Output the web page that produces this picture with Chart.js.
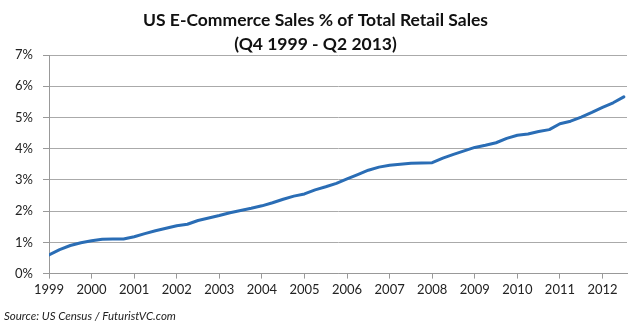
<!DOCTYPE html>
<html>
<head>
<meta charset="utf-8">
<script src="https://cdn.jsdelivr.net/npm/chart.js@4"></script>
<style>
  html, body { margin: 0; padding: 0; background: #fff; }
  #wrap { width: 640px; height: 327px; }
</style>
</head>
<body>
<div id="wrap"><canvas id="ecomChart" width="640" height="327"></canvas></div>
<script>
// quarterly share, Q4 1999 .. Q2 2013 (55 quarters)
const shareOfRetail = [
  0.60, 0.77, 0.90, 0.99, 1.05, 1.10, 1.11, 1.11, 1.18, 1.28,
  1.37, 1.45, 1.53, 1.58, 1.70, 1.78, 1.86, 1.95, 2.02, 2.09,
  2.17, 2.27, 2.38, 2.48, 2.55, 2.68, 2.78, 2.89, 3.03, 3.17,
  3.31, 3.41, 3.47, 3.50, 3.53, 3.54, 3.55, 3.70, 3.82, 3.93,
  4.04, 4.11, 4.19, 4.33, 4.43, 4.47, 4.55, 4.61, 4.80, 4.88,
  5.01, 5.16, 5.32, 5.47, 5.66
];
// one label every 4 quarters
const yearLabels = ['1999', '2000', '2001', '2002', '2003', '2004', '2005',
  '2006', '2007', '2008', '2009', '2010', '2011', '2012'];
const yTicks = [0, 1, 2, 3, 4, 5, 6, 7];

const points = shareOfRetail.map((v, i) => ({ x: i, y: v }));

const ctx = document.getElementById('ecomChart').getContext('2d');
const ecomChart = new Chart(ctx, {
  type: 'line',
  data: {
    datasets: [{
      label: 'E-Commerce % of Retail',
      data: points,
      borderColor: '#2a6db5',
      borderWidth: 3,
      pointRadius: 0,
      fill: false,
      tension: 0,
      borderJoinStyle: 'round',
      borderCapStyle: 'round'
    }]
  },
  options: {
    responsive: false,
    animation: false,
    layout: { padding: { left: 4, right: 13, top: 0, bottom: 0 } },
    plugins: {
      legend: { display: false },
      tooltip: { enabled: false },
      title: {
        display: true,
        text: ['US E-Commerce Sales % of Total Retail Sales', '(Q4 1999 - Q2 2013)'],
        color: '#111',
        font: { family: 'Lato', size: 17.5, weight: 'bold', lineHeight: 1.4 },
        padding: { top: 8, bottom: -2 }
      },
      subtitle: {
        display: true,
        position: 'bottom',
        align: 'start',
        text: 'Source: US Census / FuturistVC.com',
        color: '#222',
        font: { family: 'Lato', size: 11.5, style: 'italic' },
        padding: { top: 9, bottom: 4 }
      }
    },
    scales: {
      x: {
        type: 'linear',
        min: 0,
        max: 54.3,
        grid: {
          drawOnChartArea: false,
          drawTicks: true,
          tickLength: 5,
          color: '#999'
        },
        border: { color: '#999' },
        ticks: {
          stepSize: 4,
          includeBounds: false,
          autoSkip: false,
          maxRotation: 0,
          padding: 3,
          color: '#222',
          font: { family: 'Lato', size: 13 },
          callback: (value) => yearLabels[value / 4]
        }
      },
      y: {
        min: yTicks[0],
        max: yTicks[yTicks.length - 1],
        afterFit: (scale) => { scale.width = 45; },
        grid: {
          color: '#aaa',
          borderDash: [2, 2],
          tickBorderDash: [],
          tickColor: '#999',
          tickLength: 6
        },
        border: { color: '#999' },
        ticks: {
          stepSize: 1,
          padding: 10,
          color: '#222',
          font: { family: 'Lato', size: 13 },
          callback: (value) => value + '%'
        }
      }
    }
  }
});
</script>
</body>
</html>
